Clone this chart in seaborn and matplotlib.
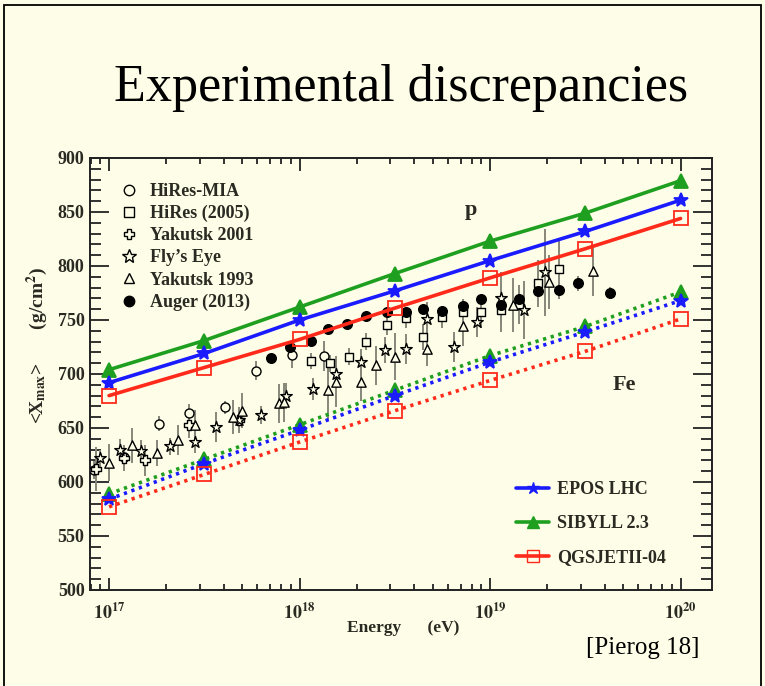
import numpy as np
import pandas as pd
import matplotlib
matplotlib.use("Agg")
import matplotlib.pyplot as plt
import seaborn as sns
from matplotlib.lines import Line2D
from matplotlib.patches import Rectangle

# ---------------- data (log10 of energy in eV, <Xmax> in g/cm^2) ----------------
model_lgE = [17.0, 17.5, 18.0, 18.5, 19.0, 19.5, 20.0]
epos_p = [692, 719, 750, 777, 805, 832, 861]
sibyll_p = [704, 731, 762, 793, 823, 849, 879]
qgsjet_p = [680, 706, 732, 761, 789, 816, 844]
epos_fe = [584, 617, 648, 680, 711, 739, 768]
sibyll_fe = [589, 621, 653, 685, 717, 744, 776]
qgsjet_fe = [577, 607, 637, 666, 694, 721, 751]

mia_lgE = [16.92, 17.08, 17.26, 17.42, 17.61, 17.77, 17.96, 18.13]
mia_x = [611, 623, 654, 664, 669, 703, 718, 717]
mia_err = [8, 8, 7, 8, 6, 9, 12, 14]

hires_lgE = [18.06, 18.16, 18.26, 18.35, 18.46, 18.56, 18.65, 18.75, 18.86, 18.95,
             19.06, 19.15, 19.25, 19.36]
hires_x = [712, 710, 716, 730, 745, 752, 734, 753, 757, 757, 759, 764, 784, 797]
hires_err = [7, 8, 8, 8, 9, 9, 12, 10, 12, 14, 20, 18, 22, 28]

yak01_lgE = [16.93, 17.08, 17.19, 17.42, 17.68]
yak01_x = [612, 622, 620, 653, 657]
yak01_err = [20, 12, 14, 12, 10]

fly_lgE = [16.95, 17.06, 17.17, 17.32, 17.45, 17.56, 17.68, 17.80, 17.93, 18.07,
           18.19, 18.32, 18.45, 18.56, 18.67, 18.81, 18.93, 19.06, 19.18, 19.29]
fly_x = [622, 630, 629, 633, 637, 651, 657, 662, 680, 686,
         700, 711, 722, 723, 751, 725, 748, 770, 759, 794]
fly_err = [8, 10, 10, 8, 10, 14, 12, 8, 12, 10, 14, 12, 12, 14, 16, 14, 14, 24, 27, 40]

yak93_lgE = [17.00, 17.12, 17.25, 17.36, 17.45, 17.65, 17.70, 17.89, 17.92, 18.15,
             18.19, 18.32, 18.40, 18.50, 18.67, 18.86, 19.12, 19.31, 19.54]
yak93_x = [618, 634, 627, 639, 653, 660, 666, 673, 674, 685,
           693, 693, 708, 716, 723, 744, 764, 785, 795]
yak93_err = [17, 16, 12, 14, 14, 16, 16, 18, 18, 28, 24, 18, 18, 22, 16, 18, 25, 25, 23]

auger_lgE = [17.85, 17.95, 18.06, 18.15, 18.25, 18.35, 18.46, 18.56, 18.65, 18.75,
             18.86, 18.95, 19.06, 19.15, 19.25, 19.36, 19.46, 19.63]
auger_x = [715, 725, 731, 742, 746, 754, 757, 757, 760, 758,
           763, 769, 764, 769, 777, 778, 784, 775]
auger_err = [3, 3, 3, 3, 3, 3, 3, 3, 3, 3, 4, 4, 5, 5, 6, 7, 7, 6]

x_ticks_lg = [17, 18, 19, 20]
x_tick_labels = [r"$\mathbf{10^{17}}$", r"$\mathbf{10^{18}}$", r"$\mathbf{10^{19}}$", r"$\mathbf{10^{20}}$"]
y_ticks = [500, 550, 600, 650, 700, 750, 800, 850, 900]

# ---------------- style ----------------
BG = "#fefee8"
BLUE = "#1b1bff"
GREEN = "#1f9f1f"
RED = "#ff2a1a"
TXT = "#2a2a22"
ERRC = "#86867a"

sns.set_theme(style="ticks")
plt.rcParams["font.family"] = ["Liberation Serif", "DejaVu Serif"]
plt.rcParams["mathtext.fontset"] = "stix"
plt.rcParams["mathtext.default"] = "bf"

W, H = 765, 686
fig = plt.figure(figsize=(W / 100, H / 100), dpi=100, facecolor=BG)
ax = fig.add_axes([90 / W, (H - 590) / H, 622 / W, 432 / H])
ax.set_facecolor(BG)

# slide border
fig.patches.append(Rectangle((4 / W, -0.01), 757 / W, 1 - 5 / H + 0.01, transform=fig.transFigure,
                             fill=False, edgecolor="black", linewidth=1.3, zorder=0))

fig.text(401 / W, 1 - 88 / H, "Experimental discrepancies", ha="center", va="center",
         fontsize=37.5, color="black", family=["Liberation Serif"])
fig.text(700 / W, 1 - 648 / H, "[Pierog 18]", ha="right", va="center",
         fontsize=18, color="black", family=["Liberation Serif"])

# ---------------- model lines ----------------
def model_df(vals):
    return pd.DataFrame({"E": 10.0 ** np.array(model_lgE), "X": vals})

dot = (0, (0.9, 1.3))
specs = [
    (sibyll_p, GREEN, "^", "-", 9.5, GREEN),
    (epos_p, BLUE, "*", "-", 10, BLUE),
    (qgsjet_p, RED, "s", "-", 10.5, "none"),
    (sibyll_fe, GREEN, "^", dot, 9.5, GREEN),
    (epos_fe, BLUE, "*", dot, 10, BLUE),
    (qgsjet_fe, RED, "s", dot, 10.5, "none"),
]
for vals, col, mk, ls, ms, mfc in specs:
    sns.lineplot(data=model_df(vals), x="E", y="X", ax=ax, color=col, lw=2.6, linestyle=ls,
                 marker=mk, markersize=ms, markerfacecolor=mfc, markeredgecolor=col,
                 markeredgewidth=1.3, zorder=4)

# ---------------- measurements ----------------
datasets = [
    ("HiRes-MIA", mia_lgE, mia_x, mia_err, "o", BG, 42),
    ("HiRes (2005)", hires_lgE, hires_x, hires_err, "s", BG, 38),
    ("Yakutsk 2001", yak01_lgE, yak01_x, yak01_err, "P", BG, 45),
    ("Fly\u2019s Eye", fly_lgE, fly_x, fly_err, "*", BG, 75),
    ("Yakutsk 1993", yak93_lgE, yak93_x, yak93_err, "^", BG, 45),
    ("Auger (2013)", auger_lgE, auger_x, auger_err, "o", "black", 48),
]
for name, lg, xm, err, mk, fc, s in datasets:
    df = pd.DataFrame({"E": 10.0 ** np.array(lg), "X": xm, "err": err})
    ax.errorbar(df["E"], df["X"], yerr=df["err"], fmt="none", ecolor=ERRC, elinewidth=1.4,
                capsize=0, zorder=2)
    sns.scatterplot(data=df, x="E", y="X", ax=ax, marker=mk, s=s, color=fc,
                    edgecolor="black", linewidth=1.0, zorder=3, legend=False)

# ---------------- axes ----------------
ax.set_xscale("log")
ax.set_xlim(10 ** 16.9, 10 ** 20.165)
ax.set_ylim(500, 900)
ax.set_xticks([10.0 ** v for v in x_ticks_lg], labels=x_tick_labels)
ax.xaxis.set_minor_locator(matplotlib.ticker.LogLocator(base=10, subs=np.arange(2, 10)))
ax.xaxis.set_minor_formatter(matplotlib.ticker.NullFormatter())
ax.set_yticks(y_ticks, labels=[str(v) for v in y_ticks])
ax.yaxis.set_minor_locator(matplotlib.ticker.MultipleLocator(10))
ax.tick_params(axis="both", which="both", direction="in", top=True, right=True,
               colors="#222222", width=1.3)
ax.tick_params(axis="x", which="major", length=9, labelsize=13, pad=9, labelcolor=TXT)
ax.tick_params(axis="x", which="minor", length=4.5)
ax.tick_params(axis="y", which="major", length=14, labelsize=13, pad=4, labelcolor=TXT)
ax.tick_params(axis="y", which="minor", length=8)
for lab in ax.get_yticklabels():
    lab.set_fontweight("bold")
for sp in ax.spines.values():
    sp.set_color("#222222")
    sp.set_linewidth(1.4)
ax.set_xlabel("")
ax.set_ylabel("")

fig.text(403 / W, 1 - 628 / H, "Energy      (eV)", ha="center", va="center",
         fontsize=12.5, fontweight="bold", color=TXT)
fig.text(37 / W, 1 - 345 / H, r"<X$_{max}$>       (g/cm$^{2}$)", ha="center", va="center",
         rotation=90, fontsize=14, fontweight="bold", color=TXT)

ax.text(10 ** 18.9, 852, "p", ha="center", va="center", fontsize=16, fontweight="bold", color=TXT)
ax.text(10 ** 19.705, 690, "Fe", ha="center", va="center", fontsize=16, fontweight="bold", color=TXT)

# ---------------- legends ----------------
h1 = [Line2D([], [], ls="none", marker=mk, markersize=(7.5 if mk != "*" else 10),
             markerfacecolor=fc, markeredgecolor="black", markeredgewidth=1.0)
      for _, _, _, _, mk, fc, _ in datasets]
leg1 = ax.legend(h1, [d[0] for d in datasets], loc="upper left",
                 bbox_to_anchor=(118 / W, 1 - 183 / H), bbox_transform=fig.transFigure,
                 frameon=False, prop={"family": "Liberation Serif", "weight": "bold", "size": 13},
                 labelspacing=0.28, handlelength=1.2, handletextpad=0.55, borderpad=0, borderaxespad=0,
                 labelcolor=TXT)
ax.add_artist(leg1)

h2 = [Line2D([], [], color=BLUE, lw=2.6, marker="*", markersize=9, markerfacecolor=BLUE, markeredgecolor=BLUE),
      Line2D([], [], color=GREEN, lw=2.6, marker="^", markersize=9, markerfacecolor=GREEN, markeredgecolor=GREEN),
      Line2D([], [], color=RED, lw=2.6, marker="s", markersize=8, markerfacecolor="none", markeredgecolor=RED)]
ax.legend(h2, ["EPOS LHC", "SIBYLL 2.3", "QGSJETII-04"], loc="upper left",
          bbox_to_anchor=(516 / W, 1 - 481 / H), bbox_transform=fig.transFigure,
          frameon=False, prop={"family": "Liberation Serif", "weight": "bold", "size": 13},
          labelspacing=0.95, handlelength=1.85, handletextpad=0.42, borderpad=0, borderaxespad=0,
          labelcolor=TXT)

fig.savefig("out.png", dpi=100, facecolor=BG)
